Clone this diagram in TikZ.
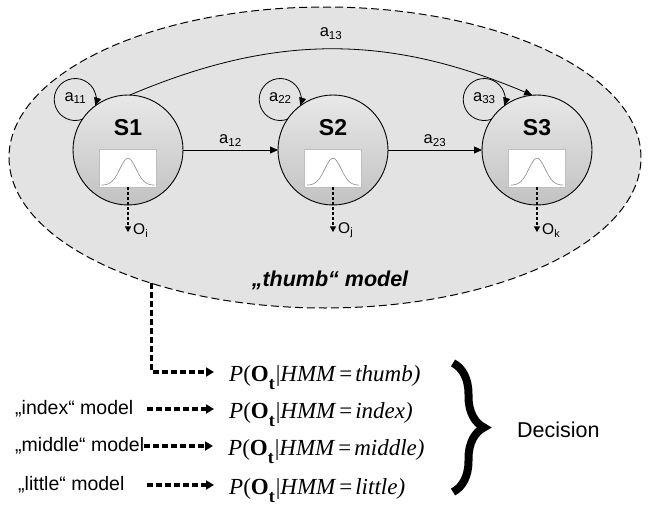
\documentclass[tikz,border=0pt]{standalone}
\usepackage{fontspec}
\setmainfont{Liberation Sans}
\newfontfamily\tms{Liberation Serif}
\usetikzlibrary{shapes.geometric, positioning, arrows.meta, decorations.pathreplacing, calc}
\tikzset{state/.style={circle,draw=black,line width=0.9pt,minimum size=110pt,inner sep=0pt,outer sep=0pt,top color=black!9,bottom color=black!24}}
\tikzset{gbox/.style={rectangle,draw=black!25,line width=0.5pt,fill=white,minimum width=57pt,minimum height=38pt,inner sep=0pt}}
\tikzset{trans/.style={line width=0.8pt,-{Triangle[length=8pt,width=7pt]}}}
\tikzset{obsarr/.style={line width=1.6pt,dash pattern=on 3pt off 2pt,-{Triangle[length=6pt,width=6pt]}}}
\tikzset{modelarr/.style={line width=3.2pt,dash pattern=on 5.5pt off 3.5pt,-{Triangle[length=8pt,width=9pt]},shorten >=15pt}}
\tikzset{formula/.style={inner sep=0pt,text height=19pt,text depth=0pt,anchor=west,font=\tms\fontsize{23}{23}\selectfont}}
\tikzset{modellab/.style={inner sep=0pt,anchor=west,font=\fontsize{19.5}{19.5}\selectfont}}
\newcommand{\hmmprob}[1]{\textit{P}(\textbf{O}\raisebox{-7.5pt}{\fontsize{18}{18}\selectfont\textbf{t}}\hspace{1pt}|\textit{HMM}\hspace{3pt}=\hspace{3pt}\textit{#1)}}

\begin{document}
\begin{tikzpicture}[x=1pt, y=1pt]
  \useasboundingbox (0,0) rectangle (649,-514);
  \node[ellipse, draw=black, line width=1pt, dash pattern=on 8pt off 4pt, fill=black!11,
        minimum width=632pt, minimum height=301pt, inner sep=0pt, outer sep=0pt] (model) at (325,-157.5) {};
  \node[font=\bfseries\itshape\fontsize{21.5}{21.5}\selectfont] (mname) at (330,-280) {„thumb“ model};

  % states
  \node[state] (s1) at (128,-150) {};
  \node[state] (s2) at (333,-150) {};
  \node[state] (s3) at (537,-150) {};
  \node[font=\bfseries\fontsize{23}{23}\selectfont] at ($(s1)+(0,22)$) {S1};
  \node[font=\bfseries\fontsize{23}{23}\selectfont] at ($(s2)+(0,22)$) {S2};
  \node[font=\bfseries\fontsize{23}{23}\selectfont] at ($(s3)+(0,22)$) {S3};

  % self loops
  \draw[trans] (s1.146) arc[start angle=-70, end angle=-377, radius=21];
  \draw[trans] (s2.146) arc[start angle=-70, end angle=-377, radius=21];
  \draw[trans] (s3.146) arc[start angle=-70, end angle=-377, radius=21];
  \node[font=\fontsize{16.5}{16.5}\selectfont] at ($(s1.146)+(-7,21)$) {a\textsubscript{11}};
  \node[font=\fontsize{16.5}{16.5}\selectfont] at ($(s2.146)+(-7,21)$) {a\textsubscript{22}};
  \node[font=\fontsize{16.5}{16.5}\selectfont] at ($(s3.146)+(-7,21)$) {a\textsubscript{33}};

  % transitions
  \draw[trans] (s1) -- node[above, font=\fontsize{16.5}{16.5}\selectfont] {a\textsubscript{12}} (s2);
  \draw[trans] (s2) -- node[above, font=\fontsize{16.5}{16.5}\selectfont] {a\textsubscript{23}} (s3);
  \draw[trans] (s1.88) to[out=23, in=157] node[above=6pt, font=\fontsize{16.5}{16.5}\selectfont] {a\textsubscript{13}} (s3.95);

  % output densities
  \node[gbox] (g1) at ($(s1)+(0,-18)$) {};
  \node[gbox] (g2) at ($(s2)+(0,-18)$) {};
  \node[gbox] (g3) at ($(s3)+(0,-18)$) {};
  \draw[black!45, line width=0.6pt, shift={(g1.south)}] plot[domain=-26:26, samples=50, smooth] (\x, {2+27*exp(-(\x/11.5)^2)});
  \draw[black!45, line width=0.6pt, shift={(g2.south)}] plot[domain=-26:26, samples=50, smooth] (\x, {2+27*exp(-(\x/11.5)^2)});
  \draw[black!45, line width=0.6pt, shift={(g3.south)}] plot[domain=-26:26, samples=50, smooth] (\x, {2+27*exp(-(\x/11.5)^2)});
  \coordinate (o1) at ($(g1.south)+(0,-45)$);
  \coordinate (o2) at ($(g2.south)+(0,-45)$);
  \coordinate (o3) at ($(g3.south)+(0,-45)$);
  \draw[obsarr] (g1.south) -- (o1);
  \draw[obsarr] (g2.south) -- (o2);
  \draw[obsarr] (g3.south) -- (o3);
  \node[right=5pt of o1, yshift=2pt, inner sep=0pt, font=\fontsize{15.5}{15.5}\selectfont] {O\textsubscript{i}};
  \node[right=5pt of o2, yshift=2pt, inner sep=0pt, font=\fontsize{15.5}{15.5}\selectfont] {O\textsubscript{j}};
  \node[right=5pt of o3, yshift=2pt, inner sep=0pt, font=\fontsize{15.5}{15.5}\selectfont] {O\textsubscript{k}};

  % model likelihoods
  \node[formula] (pthumb) at (229,-372) {\hmmprob{thumb}};
  \node[formula] (pindex) at (229,-409) {\hmmprob{index}};
  \node[formula] (pmiddle) at (228,-446) {\hmmprob{middle}};
  \node[formula] (plittle) at (229,-485) {\hmmprob{little}};
  \node[modellab] (lindex) at (15,-409) {„index“ model};
  \node[modellab] (lmiddle) at (15,-446) {„middle“ model};
  \node[modellab] (llittle) at (18,-485) {„little“ model};
  \coordinate (astart) at (147,-400);
  \draw[modelarr] (model.216.3) |- (pthumb.west);
  \draw[modelarr] (astart |- pindex.west) -- (pindex.west);
  \draw[modelarr] (lmiddle.east) -- (pmiddle.west);
  \draw[modelarr] (astart |- plittle.west) -- (plittle.west);

  \draw[line width=8pt, decorate, decoration={brace, amplitude=31pt}] (453,-363) -- (453,-492);
  \node[inner sep=0pt, anchor=west, font=\fontsize{21.5}{21.5}\selectfont] (dec) at (517,-430) {Decision};
\end{tikzpicture}
\end{document}
